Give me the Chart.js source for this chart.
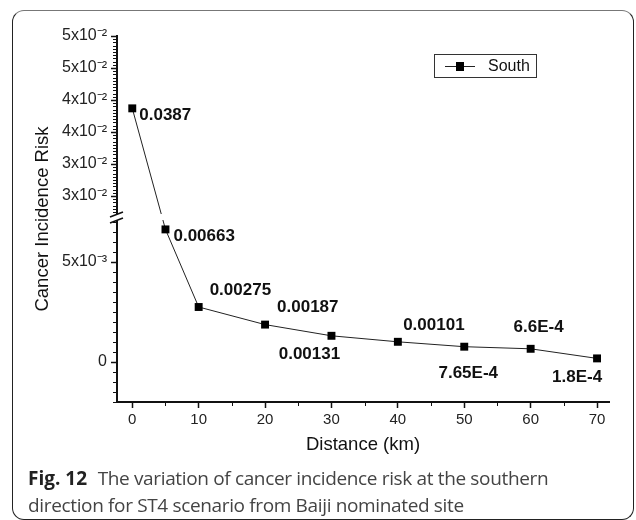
<!DOCTYPE html>
<html>
<head>
<meta charset="utf-8">
<script src="https://cdn.jsdelivr.net/npm/chart.js@4.4.0/dist/chart.umd.min.js"></script>
<style>
  html, body { margin: 0; padding: 0; background: #fff; }
  #wrap { position: relative; width: 636px; height: 520px; overflow: hidden; }
  #frame { position: absolute; left: 12px; top: 10px; width: 622px; height: 510px; box-sizing: border-box;
           border: 1.5px solid #222; border-top-color: #777; border-radius: 12px; }
  #chart { position: absolute; left: 0; top: 0; }
  #caption { position: absolute; left: 28px; top: 465px; font-family: 'Open Sans', sans-serif; font-size: 19px;
             line-height: 27px; color: #444; white-space: nowrap; letter-spacing: -0.35px; }
  #caption b { color: #222; margin-right: 6px; letter-spacing: 0; }
</style>
</head>
<body>
<div id="wrap">
  <div id="frame"></div>
  <canvas id="chart" width="636" height="520"></canvas>
  <div id="caption"><b>Fig. 12</b> The variation of cancer incidence risk at the southern<br>direction for ST4 scenario from Baiji nominated site</div>
</div>
<script>
// data
const distances = [0, 5, 10, 20, 30, 40, 50, 60, 70];
const southRisk = [0.0387, 0.00663, 0.00275, 0.00187, 0.00131, 0.00101, 0.000765, 0.00066, 0.00018];
const riskLabels = ['0.0387', '0.00663', '0.00275', '0.00187', '0.00131', '0.00101', '7.65E-4', '6.6E-4', '1.8E-4'];

const xTicks = [0, 10, 20, 30, 40, 50, 60, 70];
const yTickValues = [0, 0.005, 0.025, 0.03, 0.035, 0.04, 0.045, 0.05];
const yTickLabels = ['0', '5x10\u207B\u00B3', '3x10\u207B\u00B2', '3x10\u207B\u00B2', '4x10\u207B\u00B2', '4x10\u207B\u00B2', '5x10\u207B\u00B2', '5x10\u207B\u00B2'];

// where each value label sits relative to its point: dx, dy, align
const labelPos = [
  [7, 7, 'left'], [8, 7, 'left'], [11, -17, 'left'], [12, -17, 'left'], [-22, 19, 'center'],
  [36, -16, 'center'], [4, 27, 'center'], [8, -21, 'center'], [-20, 19, 'center']
];

// linear scale with a cut between lowMax and highMin
class BrokenScale extends Chart.LinearScale {
  parts() {
    const b = this.options.brk;
    const h = this.bottom - this.top - b.gap;
    const lowH = h * b.lowShare;
    return { b: b, lowH: lowH, highH: h - lowH };
  }
  getPixelForValue(v) {
    const p = this.parts();
    if (v <= p.b.lowMax) return this.bottom - (v - this.min) / (p.b.lowMax - this.min) * p.lowH;
    return this.top + (this.max - v) / (this.max - p.b.highMin) * p.highH;
  }
  getValueForPixel(px) {
    const p = this.parts();
    if (px >= this.bottom - p.lowH) return this.min + (this.bottom - px) / p.lowH * (p.b.lowMax - this.min);
    return this.max - (px - this.top) / p.highH * (this.max - p.b.highMin);
  }
}
BrokenScale.id = 'broken';
BrokenScale.defaults = Chart.LinearScale.defaults;
Chart.register(BrokenScale);

const minorStep = 0.0005;

const extras = {
  id: 'extras',
  afterDraw(chart) {
    const ctx = chart.ctx;
    const area = chart.chartArea;
    const xs = chart.scales.x, ys = chart.scales.y;
    const p = ys.parts();
    const cutTop = ys.top + p.highH;
    const cutBot = cutTop + p.b.gap;

    ctx.save();
    // minor ticks
    ctx.strokeStyle = '#111';
    ctx.lineWidth = 1;
    ctx.beginPath();
    for (let k = 0; ; k++) {
      const v = ys.max - k * minorStep;
      if (v < p.b.highMin) break;
      const y = Math.round(ys.getPixelForValue(v)) + 0.5;
      ctx.moveTo(area.left - 4, y); ctx.lineTo(area.left, y);
    }
    for (let k = 0; ; k++) {
      const v = ys.min + k * minorStep;
      if (v > p.b.lowMax) break;
      const y = Math.round(ys.getPixelForValue(v)) + 0.5;
      ctx.moveTo(area.left - 4, y); ctx.lineTo(area.left, y);
    }
    for (let i = 0; i < xTicks.length - 1; i++) {
      const x = Math.round(xs.getPixelForValue((xTicks[i] + xTicks[i + 1]) / 2)) + 0.5;
      ctx.moveTo(x, area.bottom); ctx.lineTo(x, area.bottom + 4);
    }
    ctx.stroke();

    // axis break
    ctx.fillStyle = '#fff';
    ctx.fillRect(area.left - 8, cutTop, area.right - area.left + 8, cutBot - cutTop);
    ctx.strokeStyle = '#111';
    ctx.lineWidth = 1.6;
    ctx.beginPath();
    ctx.moveTo(area.left - 7, cutTop + 3); ctx.lineTo(area.left + 6, cutTop - 2);
    ctx.moveTo(area.left - 7, cutBot + 3); ctx.lineTo(area.left + 6, cutBot - 2);
    ctx.stroke();

    // value labels
    const meta = chart.getDatasetMeta(0);
    ctx.fillStyle = '#111';
    ctx.font = 'bold 17px "Liberation Sans", Arial, sans-serif';
    ctx.textBaseline = 'middle';
    meta.data.forEach((pt, i) => {
      const lp = labelPos[i];
      ctx.textAlign = lp[2];
      ctx.fillText(riskLabels[i], pt.x + lp[0], pt.y + lp[1]);
    });

    // legend box
    const ds = chart.data.datasets[0];
    const lx = 434, ly = 54;
    ctx.strokeStyle = '#333';
    ctx.lineWidth = 1;
    ctx.strokeRect(lx + 0.5, ly + 0.5, 102, 23);
    ctx.strokeStyle = ds.borderColor;
    ctx.beginPath();
    ctx.moveTo(lx + 11, ly + 12.5); ctx.lineTo(lx + 41, ly + 12.5);
    ctx.stroke();
    ctx.fillStyle = ds.backgroundColor;
    ctx.fillRect(lx + 22, ly + 8, 8, 9);
    ctx.fillStyle = '#111';
    ctx.font = '16px "Liberation Sans", Arial, sans-serif';
    ctx.textAlign = 'left';
    ctx.fillText(ds.label, lx + 54, ly + 12.5);
    ctx.restore();
  }
};

const ctx = document.getElementById('chart');
const tickFont = { family: '"Liberation Sans", Arial, sans-serif', size: 15 };
const yTickFont = { family: '"Liberation Sans", Arial, sans-serif', size: 16 };
const titleFont = { family: '"Liberation Sans", Arial, sans-serif', size: 18.5 };

new Chart(ctx, {
  type: 'line',
  data: {
    datasets: [{
      label: 'South',
      data: distances.map((d, i) => ({ x: d, y: southRisk[i] })),
      borderColor: '#222',
      backgroundColor: '#000',
      borderWidth: 1,
      pointStyle: 'rect',
      pointRadius: 5.6,
      pointBorderWidth: 0,
      pointBackgroundColor: '#000',
      tension: 0
    }]
  },
  options: {
    responsive: false,
    animation: false,
    layout: { padding: { left: 12, right: 27, top: 36, bottom: 60 } },
    plugins: {
      legend: { display: false },
      tooltip: { enabled: false }
    },
    scales: {
      x: {
        type: 'linear',
        min: -2.3,
        max: 71.8,
        afterBuildTicks: s => { s.ticks = xTicks.map(v => ({ value: v, major: true })); },
        afterFit: s => { s.height = 58; },
        grid: { drawOnChartArea: false, tickLength: 6, tickWidth: 1.5, tickColor: '#111' },
        border: { color: '#111', width: 2 },
        ticks: { autoSkip: false, maxRotation: 0, padding: 3, color: '#222', font: tickFont },
        title: { display: true, text: 'Distance (km)', color: '#111', font: titleFont, padding: { top: 0, bottom: 4 } }
      },
      y: {
        type: 'broken',
        min: -0.002,
        max: 0.05,
        bounds: 'data',
        brk: { lowMax: 0.0071, highMin: 0.0222, gap: 6, lowShare: 182 / 360 },
        afterBuildTicks: s => { s.ticks = yTickValues.map(v => ({ value: v, major: true })); },
        afterFit: s => { s.width = 105; },
        grid: { drawOnChartArea: false, tickLength: 6, tickWidth: 1.5, tickColor: '#111' },
        border: { color: '#111', width: 2 },
        ticks: { autoSkip: false, padding: 4, color: '#222', font: yTickFont,
                 callback: (v, i) => yTickLabels[i] },
        title: { display: true, text: 'Cancer Incidence Risk', color: '#111', font: titleFont, padding: { top: 20, bottom: 0 } }
      }
    }
  },
  plugins: [extras]
});
</script>
</body>
</html>
